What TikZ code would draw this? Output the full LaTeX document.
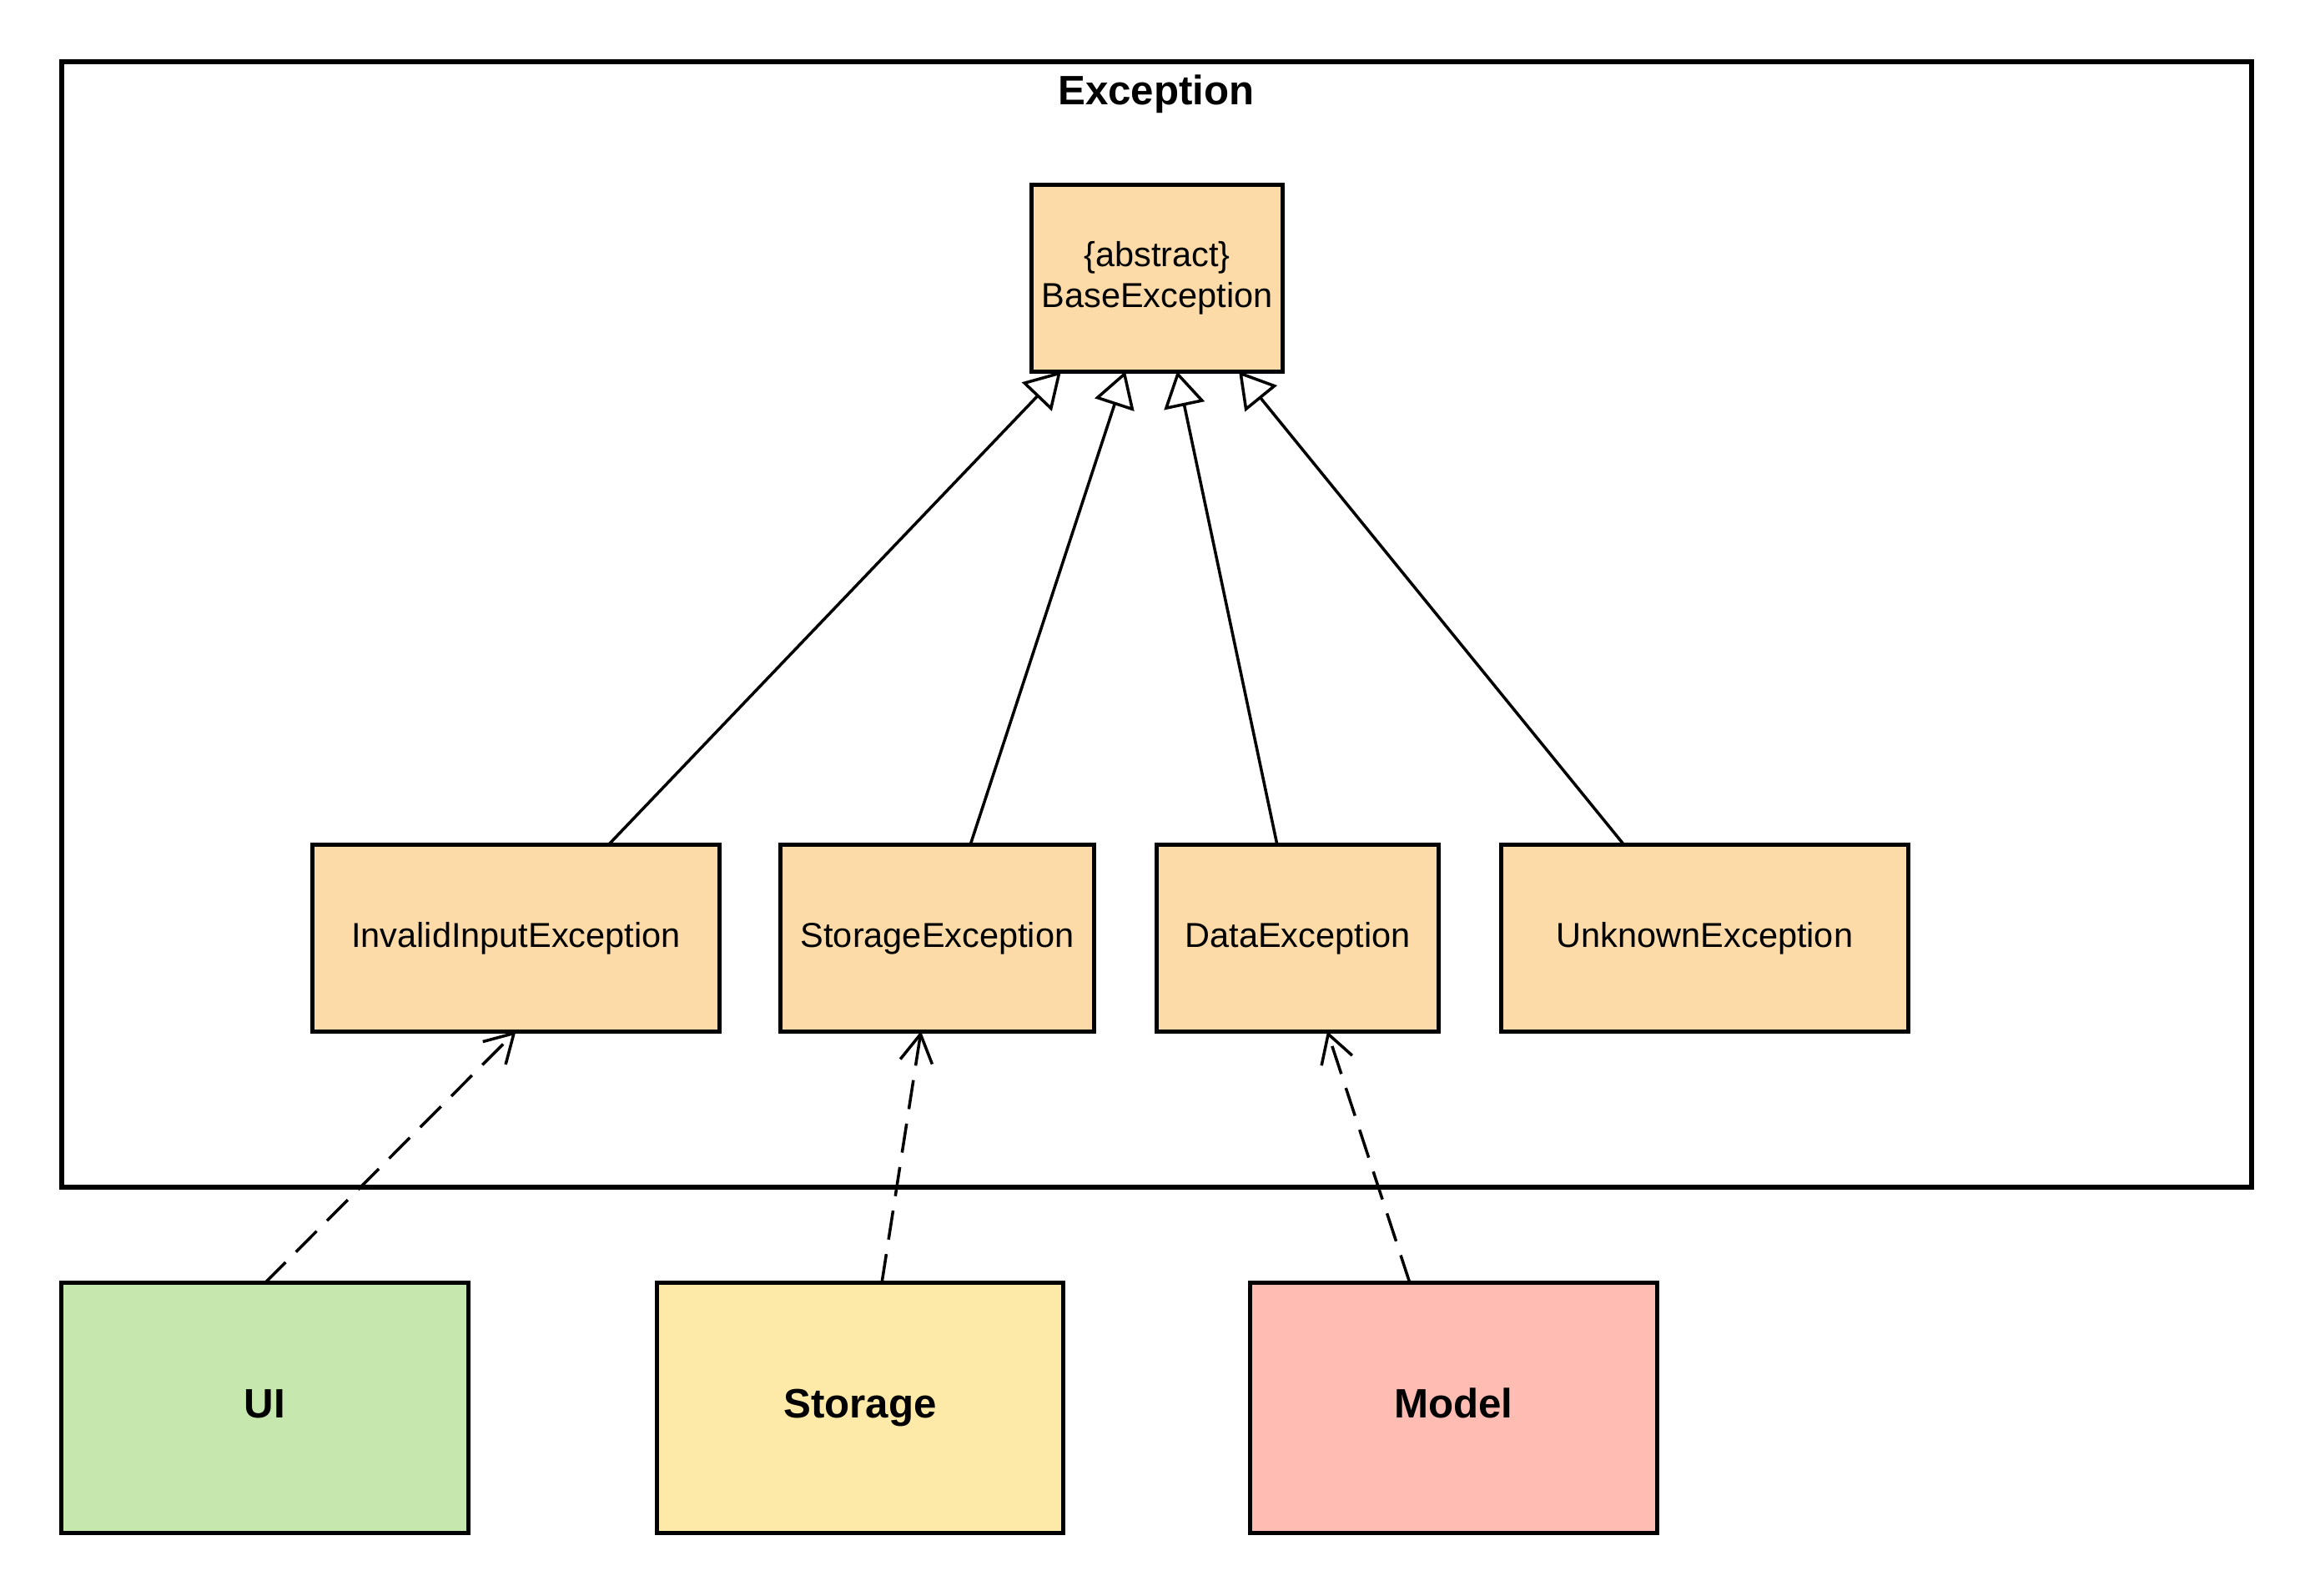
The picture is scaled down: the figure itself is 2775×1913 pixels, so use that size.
\documentclass[tikz,border=0pt]{standalone}
\usepackage{fontspec}
\setmainfont{Liberation Sans}
\usetikzlibrary{arrows.meta,calc}
\definecolor{peach}{HTML}{FDDBA8}
\definecolor{uigreen}{HTML}{C6E7AD}
\definecolor{styellow}{HTML}{FEEAA8}
\definecolor{mdpink}{HTML}{FFBCB3}
\tikzset{
  cls/.style={draw=black, line width=1.4pt, fill=peach, inner sep=0pt, outer sep=0pt,
    minimum height=2.23cm, align=center, font=\fontsize{11.8}{14}\selectfont},
  comp/.style={draw=black, line width=1.4pt, inner sep=0pt, outer sep=0pt,
    minimum width=4.87cm, minimum height=2.99cm, text height=10pt, text depth=3pt,
    font=\fontsize{14}{17}\selectfont\bfseries},
  inherit/.style={line width=1pt, -{Triangle[open,length=12pt,width=14pt,fill=white]}},
  depend/.style={line width=1pt, dash pattern=on 10pt off 5pt, -{Straight Barb[length=9.5pt,width=11pt]}},
}
\begin{document}
\begin{tikzpicture}[x=0.01cm,y=-0.01cm]
\useasboundingbox (0,0) rectangle (2775,1913);
\draw[line width=1.7pt] (74,74) rectangle (2699,1423);
\node[font=\fontsize{14}{17}\selectfont\bfseries] (title) at (1386,113) {Exception};
\node[cls, minimum width=3.00cm] (base) at (1387,333.5) {\{abstract\}\\BaseException};
\node[cls, minimum width=4.87cm] (inv) at (618.5,1124.5) {InvalidInputException};
\node[cls, minimum width=3.75cm] (sto) at (1123.5,1124.5) {StorageException};
\node[cls, minimum width=3.37cm] (dat) at (1555.5,1124.5) {DataException};
\node[cls, minimum width=4.87cm] (unk) at (2043.5,1124.5) {UnknownException};
\node[comp, fill=uigreen] (ui) at (317.5,1687.5) {UI};
\node[comp, fill=styellow] (stor) at (1031,1687.5) {Storage};
\node[comp, fill=mdpink] (model) at (1742.5,1687.5) {Model};
\draw[inherit] ([xshift=1.105cm]inv.north) -- ([xshift=-1.15cm]base.south);
\draw[inherit] ([xshift=0.395cm]sto.north) -- ([xshift=-0.38cm]base.south);
\draw[inherit] ([xshift=-0.245cm]dat.north) -- ([xshift=0.24cm]base.south);
\draw[inherit] ([xshift=-0.965cm]unk.north) -- ([xshift=0.98cm]base.south);
\draw[depend] (ui.north) -- (inv.south);
\draw[depend] ([xshift=0.26cm]stor.north) -- ([xshift=-0.195cm]sto.south);
\draw[depend] ([xshift=-0.525cm]model.north) -- ([xshift=0.355cm]dat.south);
\end{tikzpicture}
\end{document}
